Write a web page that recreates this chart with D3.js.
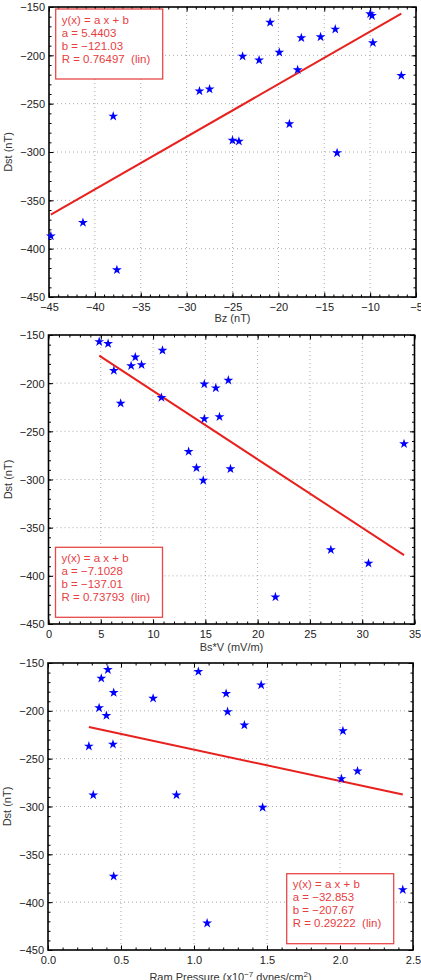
<!DOCTYPE html>
<html>
<head>
<meta charset="utf-8">
<script src="https://cdn.jsdelivr.net/npm/d3@7"></script>
<style>
  body { margin: 0; background: #fff; }
  svg { display: block; font-family: "Liberation Sans", Arial, sans-serif; }
</style>
</head>
<body>
<div id="chart-area"></div>
<script>
// Dst against Bz
let bzValues = [-38.0, -28.6, -27.5, -25.0, -24.3, -23.9, -22.1, -20.9, -19.9, -18.8, -17.9,
    -17.5, -15.4, -13.8, -13.6, -10.0, -9.8, -9.7, -6.6, -44.8, -41.3, -37.6];
let dstBz = [-263, -237, -235, -288, -289, -201, -205, -166, -197, -271, -215,
    -182, -181, -173, -301, -157, -159, -187, -221, -387, -373, -422];

// Dst against Bs*V
let bsvValues = [4.85, 5.7, 6.25, 6.9, 7.9, 8.3, 8.9, 10.9, 10.8, 13.4, 14.15,
    14.8, 14.9, 14.9, 16.0, 16.35, 17.2, 17.4, 34.0, 27.0, 30.6, 21.7];
let dstBsv = [-157, -159, -187, -221, -182, -173, -181, -166, -215, -271, -288,
    -301, -201, -237, -205, -235, -197, -289, -263, -373, -387, -422];

// Dst against ram pressure
let ramValues = [0.28, 0.31, 0.35, 0.365, 0.40, 0.41, 0.445, 0.45, 0.72, 0.88, 1.03,
    1.22, 1.23, 1.345, 1.46, 1.47, 2.02, 2.01, 2.12, 0.45, 1.09, 2.43];
let dstRam = [-237, -288, -197, -166, -205, -157, -235, -181, -187, -288, -159,
    -182, -201, -215, -173, -301, -221, -271, -263, -373, -422, -387];

// fit results: [a, b, R]
let fitBz = [5.4403, -121.03, "0.76497"];
let fitBsv = [-7.1028, -137.01, "0.73793"];
let fitRam = [-32.853, -207.67, "0.29222"];

let dstTicks = [-450, -400, -350, -300, -250, -200, -150];
let bzTicks = [-45, -40, -35, -30, -25, -20, -15, -10, -5];
let bsvTicks = [0, 5, 10, 15, 20, 25, 30, 35];
let ramTicks = [0, 0.5, 1, 1.5, 2, 2.5];

let legendTexts = (f) => [
    "y(x) = a x + b",
    "a = " + d3.format("")(f[0]).replace("-", "\u2212"),
    "b = " + d3.format("")(f[1]).replace("-", "\u2212"),
    "R = " + f[2] + "  (lin)"
];

let panels = [
    { xs: bzValues, ys: dstBz, fit: fitBz, xTicks: bzTicks, xMinor: 1, xTitle: "Bz (nT)",
      box: { left: 49, right: 416, top: 7, bottom: 297 }, legend: "topleft", titleOff: 25 },
    { xs: bsvValues, ys: dstBsv, fit: fitBsv, xTicks: bsvTicks, xMinor: 1, xTitle: "Bs*V (mV/m)",
      box: { left: 48.5, right: 414.5, top: 335, bottom: 624 }, legend: "bottomleft", titleOff: 27 },
    { xs: ramValues, ys: dstRam, fit: fitRam, xTicks: ramTicks, xMinor: 0.1, xTitle: "ram",
      box: { left: 48, right: 413, top: 663, bottom: 950 }, legend: "bottomright", titleOff: 31 }
];

let svg = d3.select("#chart-area")
    .append("svg")
    .attr("width", 421)
    .attr("height", 980);

panels.forEach((p) => {
    let b = p.box;
    let w = b.right - b.left;
    let h = b.bottom - b.top;
    let g = svg.append("g")
        .attr("transform", "translate(" + b.left + "," + b.top + ")");

    let x = d3.scaleLinear()
        .domain(d3.extent(p.xTicks))
        .range([0, w]);
    let y = d3.scaleLinear()
        .domain([-450, -150])
        .range([h, 0]);

    // grid
    g.append("g")
        .selectAll("line.vg")
        .data(p.xTicks.slice(1, -1))
        .enter().append("line")
        .attr("x1", d => x(d)).attr("x2", d => x(d))
        .attr("y1", 0).attr("y2", h)
        .attr("stroke", "#aaa").attr("stroke-width", 1)
        .attr("stroke-dasharray", "1,3");
    g.append("g")
        .selectAll("line.hg")
        .data(dstTicks.slice(1, -1))
        .enter().append("line")
        .attr("x1", 0).attr("x2", w)
        .attr("y1", d => y(d)).attr("y2", d => y(d))
        .attr("stroke", "#aaa").attr("stroke-width", 1)
        .attr("stroke-dasharray", "1,3");

    // minor ticks
    let xd = x.domain();
    let xMinorTicks = d3.range(Math.round((xd[1] - xd[0]) / p.xMinor) + 1)
        .map(i => xd[0] + i * p.xMinor);
    let yMinorTicks = d3.range(31).map(i => -450 + i * 10);

    let styleAxis = (sel) => {
        sel.select(".domain").remove();
        sel.selectAll("line").attr("stroke", "#000").attr("stroke-width", 1);
    };

    g.append("g").attr("transform", "translate(0," + h + ")")
        .call(d3.axisBottom(x).tickValues(xMinorTicks).tickSize(-2.5).tickFormat(""))
        .call(styleAxis);
    g.append("g")
        .call(d3.axisTop(x).tickValues(xMinorTicks).tickSize(-2.5).tickFormat(""))
        .call(styleAxis);
    g.append("g")
        .call(d3.axisLeft(y).tickValues(yMinorTicks).tickSize(-2.5).tickFormat(""))
        .call(styleAxis);
    g.append("g").attr("transform", "translate(" + w + ",0)")
        .call(d3.axisRight(y).tickValues(yMinorTicks).tickSize(-2.5).tickFormat(""))
        .call(styleAxis);

    // major ticks and labels
    let xAxis = g.append("g").attr("transform", "translate(0," + h + ")")
        .call(d3.axisBottom(x).tickValues(p.xTicks).tickSizeInner(-4.5).tickSizeOuter(0).tickPadding(6.5))
        .call(styleAxis);
    g.append("g")
        .call(d3.axisTop(x).tickValues(p.xTicks).tickSizeInner(-4.5).tickSizeOuter(0).tickFormat(""))
        .call(styleAxis);
    let yAxis = g.append("g")
        .call(d3.axisLeft(y).tickValues(dstTicks).tickSizeInner(-4.5).tickSizeOuter(0).tickPadding(4))
        .call(styleAxis);
    g.append("g").attr("transform", "translate(" + w + ",0)")
        .call(d3.axisRight(y).tickValues(dstTicks).tickSizeInner(-4.5).tickSizeOuter(0).tickFormat(""))
        .call(styleAxis);

    [xAxis, yAxis].forEach((a) => {
        a.selectAll("text")
            .attr("font-size", 11)
            .attr("font-family", "Liberation Sans, Arial, sans-serif")
            .attr("fill", "#222");
    });
    yAxis.selectAll("text").attr("dy", "0.36em");

    // frame
    g.append("rect")
        .attr("width", w).attr("height", h)
        .attr("fill", "none")
        .attr("stroke", "#000")
        .attr("stroke-width", 1.6);

    // axis titles
    let xt = g.append("text")
        .attr("x", w / 2)
        .attr("y", h + p.titleOff)
        .attr("text-anchor", "middle")
        .attr("font-size", 11)
        .attr("fill", "#333");
    if (p.xTitle === "ram") {
        xt.append("tspan").text("Ram Pressure (x10");
        xt.append("tspan").attr("dy", -4).attr("font-size", 8).text("\u22127");
        xt.append("tspan").attr("dy", 4).text(" dynes/cm");
        xt.append("tspan").attr("dy", -4).attr("font-size", 8).text("2");
        xt.append("tspan").attr("dy", 4).text(")");
    } else {
        xt.text(p.xTitle);
    }

    g.append("text")
        .attr("transform", "rotate(-90)")
        .attr("x", -h / 2)
        .attr("y", -37)
        .attr("text-anchor", "middle")
        .attr("font-size", 11)
        .attr("fill", "#333")
        .text("Dst (nT)");

    // fit line over the data range
    let xr = d3.extent(p.xs);
    g.append("line")
        .attr("x1", x(xr[0])).attr("y1", y(p.fit[0] * xr[0] + p.fit[1]))
        .attr("x2", x(xr[1])).attr("y2", y(p.fit[0] * xr[1] + p.fit[1]))
        .attr("stroke", "#e8211f")
        .attr("stroke-width", 2);

    // stars
    g.append("g")
        .selectAll("path")
        .data(p.xs.map((v, i) => [v, p.ys[i]]))
        .enter().append("path")
        .attr("d", d3.symbol(d3.symbolStar, 30))
        .attr("transform", d => "translate(" + x(d[0]) + "," + y(d[1]) + ")")
        .attr("fill", "#0000ff");

    // fit legend
    let bw = 107, bh = 70;
    let bx, by;
    if (p.legend === "topleft") { bx = 6.7; by = 2; }
    else if (p.legend === "bottomleft") { bx = 7; by = h - 6.7 - bh; }
    else { bx = w - 19.3 - bw; by = h - 6.3 - bh; }
    let lg = g.append("g").attr("transform", "translate(" + bx + "," + by + ")");
    lg.append("rect")
        .attr("width", bw).attr("height", bh)
        .attr("fill", "#fff")
        .attr("stroke", "#e84848")
        .attr("stroke-width", 1.3);
    lg.selectAll("text")
        .data(legendTexts(p.fit))
        .enter().append("text")
        .attr("x", 6)
        .attr("y", (d, i) => 14.7 + i * 13)
        .attr("font-size", 11.5)
        .attr("fill", "#e8403f")
        .attr("xml:space", "preserve")
        .style("white-space", "pre")
        .text(d => d);
});
</script>
</body>
</html>
